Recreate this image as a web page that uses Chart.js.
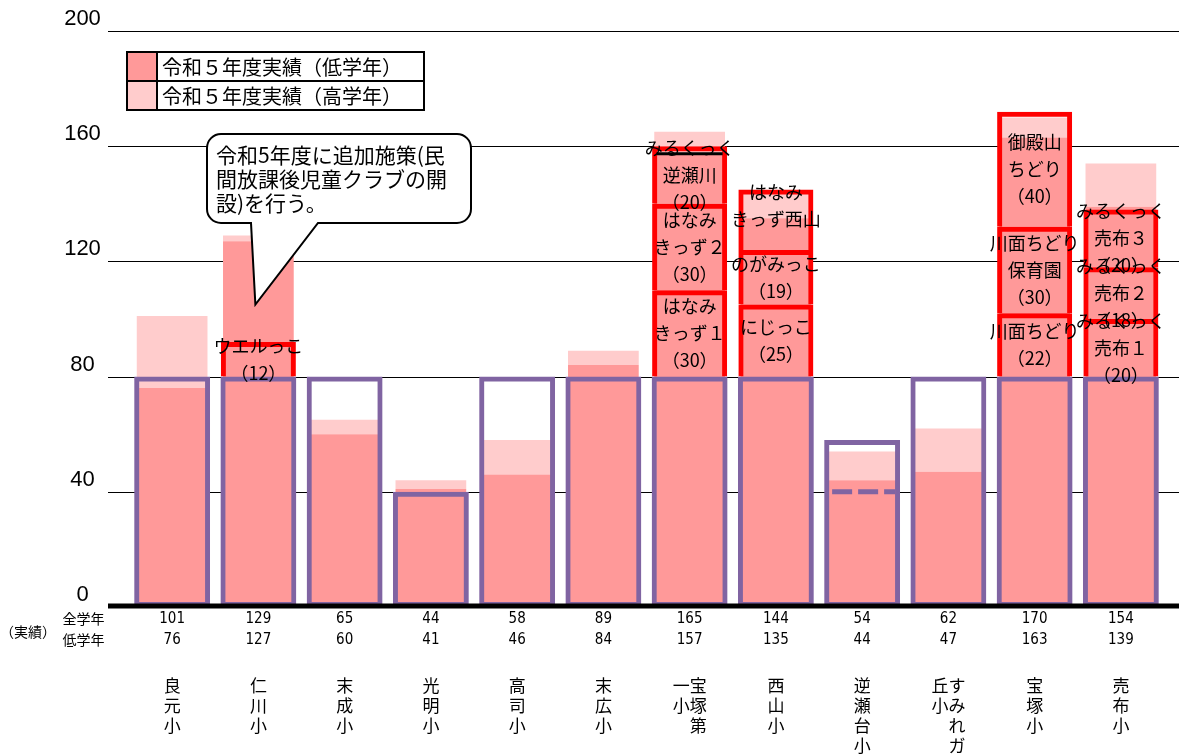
<!DOCTYPE html>
<html lang="ja">
<head>
<meta charset="UTF-8">
<title>放課後児童クラブ 実績</title>
<script src="https://cdn.jsdelivr.net/npm/chart.js"></script>
<style>
  body { margin: 0; background: #fff; }
  #wrap { position: relative; width: 1179px; height: 756px; }
</style>
</head>
<body>
<div id="wrap"><canvas id="chart"></canvas></div>
<script>
// school names, written vertically (one entry per line)
const schools = [
  ['良','元','小'], ['仁','川','小'], ['末','成','小'], ['光','明','小'],
  ['高','司','小'], ['末','広','小'], ['一宝','小塚','　第'], ['西','山','小'],
  ['逆','瀬','台','小'], ['丘す','小み','　れ','　ガ'], ['宝','塚','小'], ['売','布','小']
];
const totalAll = [101, 129, 65, 44, 58, 89, 165, 144, 54, 62, 170, 154];
const totalLow = [76, 127, 60, 41, 46, 84, 157, 135, 44, 47, 163, 139];
const capacity = [80, 80, 80, 40, 80, 80, 80, 80, 58, 80, 80, 80];
const dashLevel = [null, null, null, null, null, null, null, null, 40, null, null, null];
const lowMarks = [6];

// additional facilities (bottom, middle, top)
const extra1 = [null, [80, 92], null, null, null, null, [80, 110], [80, 105], null, null, [80, 102], [80, 100]];
const extra2 = [null, null, null, null, null, null, [110, 140], [105, 124], null, null, [102, 132], [100, 118]];
const extra3 = [null, null, null, null, null, null, [140, 160], [124, 145], null, null, [132, 172], [118, 138]];
const extra1Names = [null, ['ウエルっこ','（12）'], null, null, null, null, ['はなみ','きっず１','（30）'], ['にじっこ','（25）'], null, null, ['川面ちどり','（22）'], ['みるくっく','売布１','（20）']];
const extra2Names = [null, null, null, null, null, null, ['はなみ','きっず２','（30）'], ['のがみっこ','（19）'], null, null, ['川面ちどり','保育園','（30）'], ['みるくっく','売布２','（18）']];
const extra3Names = [null, null, null, null, null, null, ['みるくっく','逆瀬川','（20）'], ['はなみ','きっず西山',''], null, null, ['御殿山','ちどり','（40）'], ['みるくっく','売布３','（20）']];

const yTicks = [0, 40, 80, 120, 160, 200];
const legendItems = ['令和５年度実績（低学年）', '令和５年度実績（高学年）'];
const calloutText = ['令和5年度に追加施策(民', '間放課後児童クラブの開', '設)を行う。'];

const LOW_COLOR = '#FF9999';
const HIGH_COLOR = '#FFCCCC';
const PURPLE = '#8064A2';
const RED = '#FF0000';
const JP = '"Noto Sans CJK JP", "Noto Sans", sans-serif';

const segStyle = {
  backgroundColor: 'rgba(0,0,0,0)',
  borderColor: RED,
  borderWidth: { top: 5, left: 5, right: 5, bottom: 0 },
  borderSkipped: false,
  barPercentage: 0.87,
  categoryPercentage: 1,
  order: 1
};

const decorations = {
  id: 'decorations',
  beforeDatasetsDraw(chart) {
    const ctx = chart.ctx;
    const y = chart.scales.y;
    ctx.save();
    ctx.strokeStyle = '#000';
    ctx.lineWidth = 1.2;
    yTicks.forEach(v => {
      if (v === 0) return;
      const py = Math.round(y.getPixelForValue(v)) + 0.5;
      ctx.beginPath();
      ctx.moveTo(108, py);
      ctx.lineTo(1179, py);
      ctx.stroke();
    });
    ctx.fillStyle = '#000';
    ctx.font = '22px "Liberation Sans", Arial, sans-serif';
    ctx.textAlign = 'center';
    ctx.textBaseline = 'middle';
    yTicks.forEach(v => {
      ctx.fillText(String(v), 82.5, y.getPixelForValue(v) - 12);
    });
    ctx.restore();
  },
  afterDatasetsDraw(chart) {
    const ctx = chart.ctx;
    const y = chart.scales.y;
    const capMeta = chart.getDatasetMeta(2);
    ctx.save();

    // dashed level inside a capacity box
    ctx.strokeStyle = PURPLE;
    ctx.lineWidth = 5;
    ctx.setLineDash([20, 6]);
    dashLevel.forEach((v, i) => {
      if (v == null) return;
      const el = capMeta.data[i];
      const py = y.getPixelForValue(v);
      ctx.beginPath();
      ctx.moveTo(el.x - 30, py);
      ctx.lineTo(el.x + 33, py);
      ctx.stroke();
    });
    ctx.setLineDash([]);

    // low-grade edge mark
    ctx.strokeStyle = '#000';
    ctx.lineWidth = 3;
    lowMarks.forEach(i => {
      const el = capMeta.data[i];
      const py = y.getPixelForValue(totalLow[i]) - 1;
      ctx.beginPath();
      ctx.moveTo(el.x - 33, py);
      ctx.lineTo(el.x + 33, py);
      ctx.stroke();
    });

    // baseline
    const by = y.getPixelForValue(0) - 1;
    ctx.lineWidth = 5;
    ctx.beginPath();
    ctx.moveTo(108, by);
    ctx.lineTo(1179, by);
    ctx.stroke();

    // facility labels
    ctx.fillStyle = '#000';
    ctx.font = '18px ' + JP;
    ctx.textAlign = 'center';
    ctx.textBaseline = 'middle';
    [[3, extra1Names], [4, extra2Names], [5, extra3Names]].forEach(([di, names]) => {
      const meta = chart.getDatasetMeta(di);
      names.forEach((lines, i) => {
        if (!lines) return;
        const el = meta.data[i];
        const cy = (el.y + el.base) / 2;
        lines.forEach((t, k) => {
          ctx.fillText(t, el.x, cy + (k - (lines.length - 1) / 2) * 27);
        });
      });
    });
    ctx.restore();
  },
  afterDraw(chart) {
    const ctx = chart.ctx;
    const x = chart.scales.x;
    const y = chart.scales.y;
    ctx.save();

    // callout
    const tipX = x.getPixelForValue(1) - 3;
    const tipY = y.getPixelForValue(105);
    const L = 207, T = 134, R = 471, B = 223, r = 14;
    ctx.beginPath();
    ctx.moveTo(L + r, T);
    ctx.lineTo(R - r, T); ctx.arcTo(R, T, R, T + r, r);
    ctx.lineTo(R, B - r); ctx.arcTo(R, B, R - r, B, r);
    ctx.lineTo(318, B); ctx.lineTo(tipX, tipY); ctx.lineTo(251, B);
    ctx.lineTo(L + r, B); ctx.arcTo(L, B, L, B - r, r);
    ctx.lineTo(L, T + r); ctx.arcTo(L, T, L + r, T, r);
    ctx.closePath();
    ctx.fillStyle = '#fff';
    ctx.fill();
    ctx.strokeStyle = '#000';
    ctx.lineWidth = 2;
    ctx.stroke();
    ctx.fillStyle = '#000';
    ctx.font = '21px ' + JP;
    ctx.textAlign = 'left';
    ctx.textBaseline = 'middle';
    calloutText.forEach((t, k) => ctx.fillText(t, 216, 155 + k * 24));

    // legend box
    const colors = [LOW_COLOR, HIGH_COLOR];
    legendItems.forEach((t, k) => {
      const top = 52 + k * 29;
      ctx.fillStyle = colors[k];
      ctx.fillRect(127, top, 30, 29);
      ctx.fillStyle = '#000';
      ctx.font = '20px ' + JP;
      ctx.fillText(t, 162, top + 15);
    });
    ctx.lineWidth = 2;
    ctx.strokeRect(127, 52, 297, 58);
    ctx.beginPath();
    ctx.moveTo(127, 81); ctx.lineTo(424, 81);
    ctx.moveTo(157, 52); ctx.lineTo(157, 110);
    ctx.stroke();

    // table of values
    ctx.font = '14px ' + JP;
    ctx.textAlign = 'center';
    ctx.fillText('（実績）', 28, 632);
    ctx.fillText('全学年', 83.5, 619);
    ctx.fillText('低学年', 83.5, 640);
    ctx.font = '15px "Liberation Sans Narrow", "DejaVu Sans Condensed", sans-serif';
    totalAll.forEach((v, i) => {
      const px = x.getPixelForValue(i);
      ctx.fillText(String(v), px, 619);
      ctx.fillText(String(totalLow[i]), px, 640);
    });

    // vertical school names
    ctx.font = '17px ' + JP;
    chart.data.labels.forEach((lines, i) => {
      const px = x.getPixelForValue(i);
      lines.forEach((t, k) => ctx.fillText(t, px, 686 + k * 20));
    });
    ctx.restore();
  }
};

new Chart(document.getElementById('chart'), {
  type: 'bar',
  data: {
    labels: schools,
    datasets: [
      {
        label: legendItems[0],
        data: totalLow,
        backgroundColor: LOW_COLOR,
        barPercentage: 0.82,
        categoryPercentage: 1,
        order: 3
      },
      {
        label: legendItems[1],
        data: totalLow.map((v, i) => [v, totalAll[i]]),
        backgroundColor: HIGH_COLOR,
        barPercentage: 0.82,
        categoryPercentage: 1,
        order: 3
      },
      {
        label: '定員',
        data: capacity,
        backgroundColor: 'rgba(0,0,0,0)',
        borderColor: PURPLE,
        borderWidth: 5,
        borderSkipped: false,
        barPercentage: 0.88,
        categoryPercentage: 1,
        order: 2
      },
      Object.assign({ label: '追加1', data: extra1 }, segStyle),
      Object.assign({ label: '追加2', data: extra2 }, segStyle),
      Object.assign({ label: '追加3', data: extra3 }, segStyle)
    ]
  },
  options: {
    responsive: true,
    maintainAspectRatio: false,
    animation: false,
    layout: { padding: { left: 129, right: 15, top: 31, bottom: 149 } },
    plugins: { legend: { display: false }, tooltip: { enabled: false } },
    scales: {
      x: { stacked: true, display: false },
      y: { stacked: false, display: false, min: 0, max: 200 }
    }
  },
  plugins: [decorations]
});
</script>
</body>
</html>
